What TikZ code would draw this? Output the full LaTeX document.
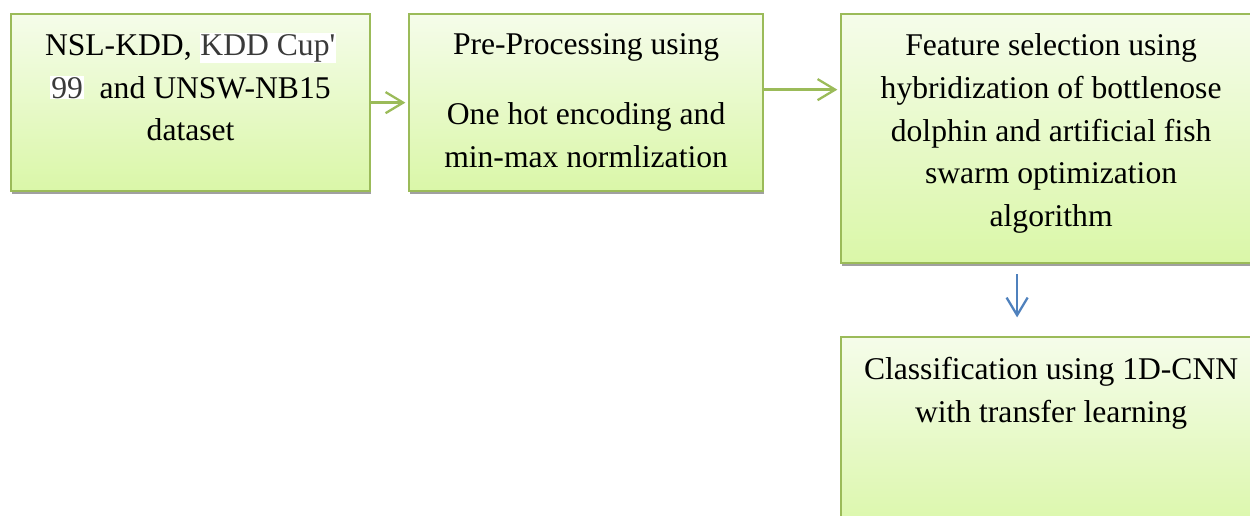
\documentclass[tikz,border=0pt]{standalone}
\usepackage{fontspec}
\setmainfont{Liberation Serif}
\usepackage{xcolor}
\usetikzlibrary{calc, arrows.meta}

\definecolor{boxline}{HTML}{9BBB59}
\definecolor{boxtop}{HTML}{F5FCEA}
\definecolor{boxbottom}{HTML}{DAF7A8}
\definecolor{boxshadow}{HTML}{A0A0A0}
\definecolor{arrowblue}{HTML}{4F81BD}
\definecolor{hltext}{HTML}{3A3A3A}

\newcommand{\hlight}[1]{{\setlength{\fboxsep}{0.5pt}\colorbox{white}{\textcolor{hltext}{#1}}}}

\begin{document}
\begin{tikzpicture}[x=0.02cm, y=-0.02cm,
		stagebox/.style={draw=boxline, line width=1.3pt, top color=boxtop, bottom color=boxbottom,
			inner sep=0pt, anchor=north west,
			preaction={fill=boxshadow, transform canvas={shift={(0.6pt,-1.8pt)}}}},
		stagetext/.style={anchor=north, inner sep=0pt, align=center, font=\fontsize{18}{24.4}\selectfont},
		flow/.style={line width=1.3pt, shorten >=1.5pt, -{Straight Barb[length=10pt, width=12pt]}}]
			\clip (0,0) rectangle (1250,515);
			
			% stage boxes
			\node[stagebox, minimum width=7.18cm, minimum height=3.54cm] (data) at (10,13) {};
			\node[stagebox, minimum width=7.08cm, minimum height=3.54cm] (prep) at (408,13) {};
			\node[stagebox, minimum width=8.4cm, minimum height=4.98cm] (feat) at (840,13) {};
			\node[stagebox, minimum width=8.4cm, minimum height=4cm] (cls) at (840,336) {};
			
			% texts
			\node[stagetext] (datatxt) at ($(data.north)+(0,20)$)
				{NSL-KDD, \hlight{KDD Cup\textquotesingle}\\ \hlight{99}\ \ and UNSW-NB15\\ dataset};
			\node[stagetext] (preptxt) at ($(prep.north)+(0,20)$)
				{Pre-Processing using\\[15.5pt] One hot encoding and\\ min-max normlization};
			\node[stagetext] (feattxt) at ($(feat.north)+(0,20)$)
				{Feature selection using\\ hybridization of bottlenose\\ dolphin and artificial fish\\ swarm optimization\\ algorithm};
			\node[stagetext] (clstxt) at ($(cls.north)+(0,21)$)
				{Classification using 1D-CNN\\ with transfer learning};
			
			\begin{scope}[flow, boxline]
				\draw (data.east) -- (prep.west);
				\draw ($(prep.east)+(0,-13)$) -- ($(feat.west |- prep.east)+(0,-13)$);
			\end{scope}
			\draw[flow, arrowblue] ($(feat.south)+(-34,10)$) -- ($(cls.north)+(-34,-16)$);
		\end{tikzpicture}
\end{document}
